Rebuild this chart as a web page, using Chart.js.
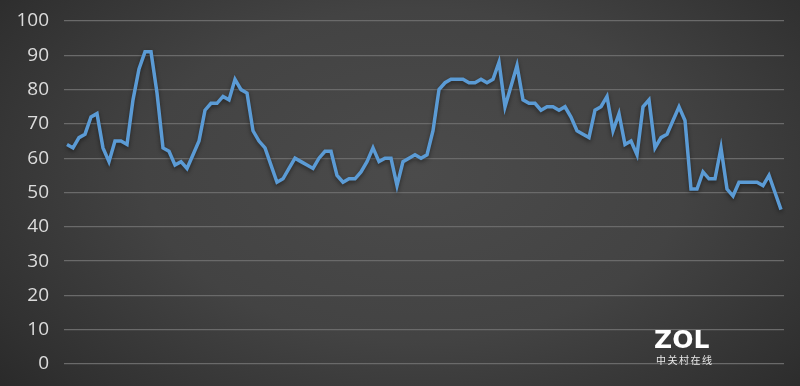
<!DOCTYPE html>
<html>
<head>
<meta charset="utf-8">
<script src="https://cdn.jsdelivr.net/npm/chart.js@4"></script>
<style>
  html, body { margin: 0; padding: 0; }
  body {
    width: 800px; height: 386px; overflow: hidden; position: relative;
    background: radial-gradient(ellipse 75% 95% at 52% 45%, #4b4b4b 0%, #434343 45%, #303030 80%, #242424 100%);
  }
  #wrap { position: absolute; left: 0; top: 0; width: 800px; height: 386px; }
  .logo { position: absolute; left: 654px; top: 325px; color: #fff; font-family: "DejaVu Sans", sans-serif;
    font-weight: bold; font-size: 25px; letter-spacing: 0px; }
  .logo-sub { position: absolute; left: 656px; top: 352px; color: #e8e8e8; font-family: "Noto Sans CJK SC", sans-serif;
    font-size: 10px; letter-spacing: 1.5px; }
</style>
</head>
<body>
<div id="wrap"><canvas id="lineChart"></canvas></div>
<div class="logo">ZOL</div>
<div class="logo-sub">中关村在线</div>
<script>
// one value per sample
var values = [
    64, 63, 66, 67, 72, 73, 63, 59, 65, 65,
    64, 77, 86, 91, 91, 79, 63, 62, 58, 59,
    57, 61, 65, 74, 76, 76, 78, 77, 83, 80,
    79, 68, 65, 63, 58, 53, 54, 57, 60, 59,
    58, 57, 60, 62, 62, 55, 53, 54, 54, 56,
    59, 63, 59, 60, 60, 52, 59, 60, 61, 60,
    61, 68, 80, 82, 83, 83, 83, 82, 82, 83,
    82, 83, 88, 75, 81, 87, 77, 76, 76, 74,
    75, 75, 74, 75, 72, 68, 67, 66, 74, 75,
    78, 68, 73, 64, 65, 61, 75, 77, 63, 66,
    67, 71, 75, 71, 51, 51, 56, 54, 54, 63,
    51, 49, 53, 53, 53, 53, 52, 55, 50, 45
];
var labels = values.map(function (v, i) { return String(i + 1); });
var yMin = 0, yMax = 100, yStep = 10;

// soft shadow under the line
var lineShadow = {
    id: 'lineShadow',
    beforeDatasetDraw: function (chart) {
        var ctx = chart.ctx;
        ctx.save();
        ctx.shadowColor = 'rgba(0,0,0,0.45)';
        ctx.shadowBlur = 4;
        ctx.shadowOffsetY = 2;
    },
    afterDatasetDraw: function (chart) {
        chart.ctx.restore();
    }
};

var lineCtx = document.getElementById('lineChart').getContext('2d');
var lineChart = new Chart(lineCtx, {
    type: 'line',
    data: {
        labels: labels,
        datasets: [{
            data: values,
            fill: false,
            borderColor: '#5b9bd5',
            borderWidth: 3.5,
            pointRadius: 0,
            tension: 0
        }]
    },
    options: {
        responsive: true,
        maintainAspectRatio: false,
        animation: false,
        layout: { padding: { top: 21, bottom: 22, right: 16, left: 0 } },
        plugins: { legend: { display: false }, tooltip: { enabled: false } },
        scales: {
            x: {
                display: false,
                offset: true
            },
            y: {
                min: yMin,
                max: yMax,
                afterFit: function (scale) { scale.width = 64; },
                border: { display: false },
                // invisible tick marks push the labels left of the plot
                grid: { color: '#6a6a6a', lineWidth: 1.3, drawTicks: true, tickLength: 15, tickColor: 'rgba(0,0,0,0)' },
                ticks: {
                    stepSize: yStep,
                    padding: 0,
                    color: '#dcdcdc',
                    font: { family: '"Open Sans", "Noto Sans", sans-serif', size: 19 }
                }
            }
        }
    },
    plugins: [lineShadow]
});
</script>
</body>
</html>
